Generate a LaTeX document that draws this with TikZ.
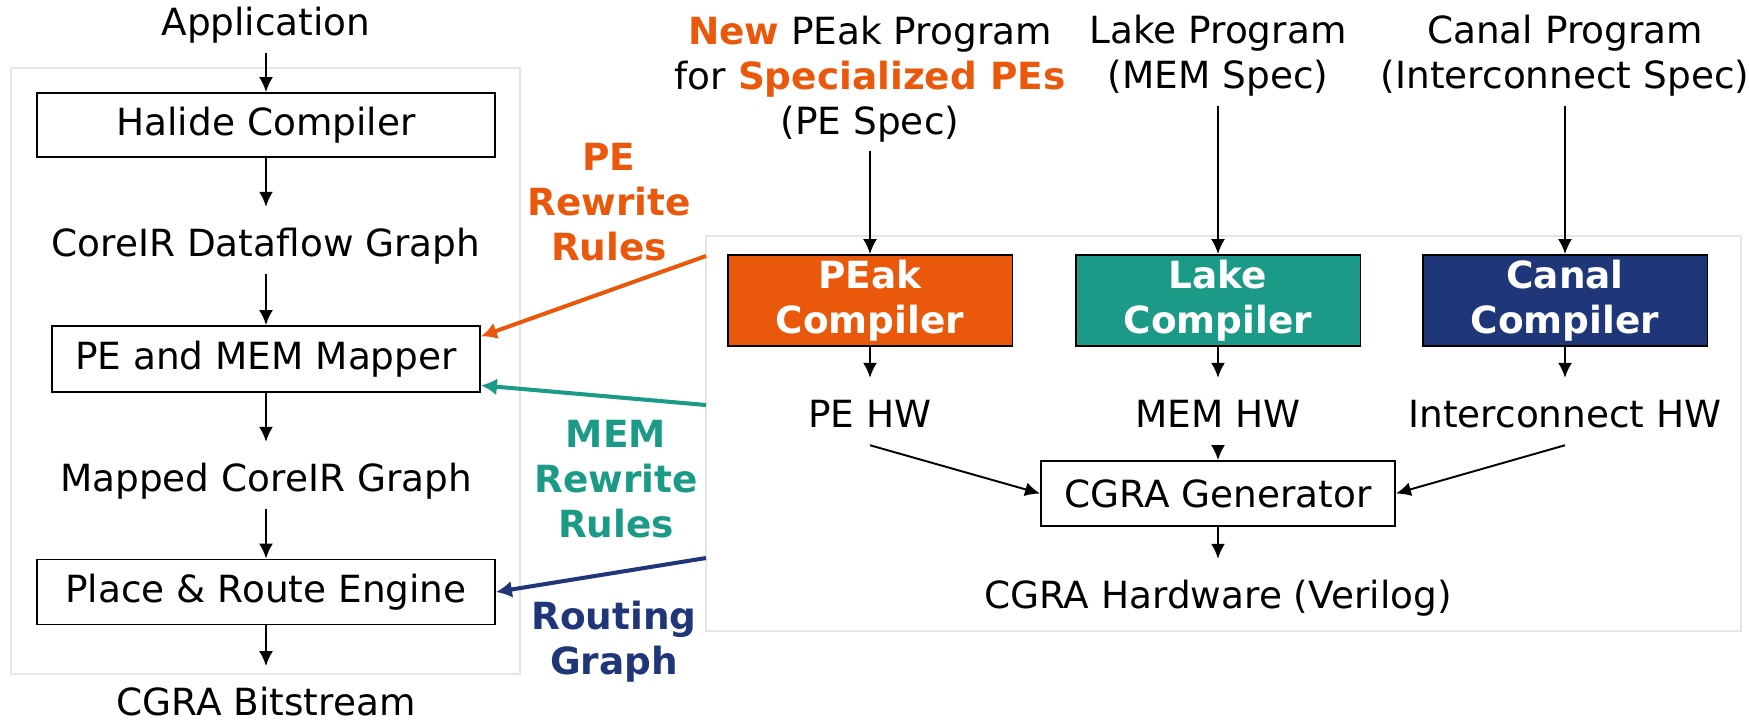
\documentclass[tikz,border=0pt]{standalone}
\usepackage{fontspec}
\setmainfont{DejaVu Sans}
\usetikzlibrary{arrows.meta}

\definecolor{peakorange}{RGB}{234,88,11}
\definecolor{laketeal}{RGB}{27,154,136}
\definecolor{canalnavy}{RGB}{31,55,120}
\definecolor{panelgray}{RGB}{229,229,229}

\begin{document}
\begin{tikzpicture}[x=0.02cm,y=-0.02cm,
  every node/.style={font=\fontsize{21.3}{25.6}\selectfont},
  lbl/.style={inner xsep=0pt,inner ysep=0pt,text height=28pt,text depth=10pt},
  prog/.style={align=center,inner xsep=0pt,inner ysep=5pt},
  rules/.style={align=center,inner sep=0pt,font=\fontsize{21.3}{25.6}\selectfont\bfseries},
  box/.style={draw,line width=1.1pt,minimum height=1.3cm,inner sep=0pt},
  cbox/.style={box,text=white,minimum width=5.7cm,minimum height=1.82cm,align=center,
    font=\fontsize{21.3}{25.6}\selectfont\bfseries},
  panel/.style={draw=panelgray,line width=1.5pt},
  flow/.style={-{Latex[length=0.3cm,width=0.28cm]},line width=1.1pt},
  feed/.style={-{Latex[length=0.32cm,width=0.34cm]},line width=2.3pt}]
  \useasboundingbox (0,0) rectangle (1749,725);

  \draw[panel] (11,68) rectangle (520,674);
  \draw[panel] (706,236) rectangle (1741,631);

  \node[lbl] (app) at (266,19.5) {Application};
  \node[box,minimum width=9.16cm,minimum height=1.28cm] (halide) at (266,125) {Halide Compiler};
  \node[lbl] (dfg) at (266,240.5) {CoreIR Dataflow Graph};
  \node[box,minimum width=8.56cm,minimum height=1.32cm] (mapper) at (266,359) {PE and MEM Mapper};
  \node[lbl] (mapped) at (266,475.5) {Mapped CoreIR Graph};
  \node[box,minimum width=9.16cm,minimum height=1.3cm] (pr) at (266,592) {Place \& Route Engine};
  \node[lbl,text depth=0pt] (bits) at (266,691) {CGRA Bitstream};

  \draw[flow] (app) -- (halide);
  \draw[flow] (halide) -- (dfg);
  \draw[flow] (dfg) -- (mapper);
  \draw[flow] (mapper) -- (mapped);
  \draw[flow] (mapped) -- (pr);
  \draw[flow] (pr) -- (bits);

  \node[prog] (peprog) at (870,79) {{\color{peakorange}\bfseries New} PEak Program\\
    for {\color{peakorange}\bfseries Specialized PEs}\\(PE Spec)};
  \node[prog] (lakeprog) at (1218,56) {Lake Program\\(MEM Spec)};
  \node[prog] (canalprog) at (1565,56) {Canal Program\\(Interconnect Spec)};

  \node[cbox,fill=peakorange] (peak) at (870,300.5) {PEak\\Compiler};
  \node[cbox,fill=laketeal] (lake) at (1218,300.5) {Lake\\Compiler};
  \node[cbox,fill=canalnavy] (canal) at (1565,300.5) {Canal\\Compiler};

  \node[lbl] (pehw) at (870,411.5) {PE HW};
  \node[lbl] (memhw) at (1218,411.5) {MEM HW};
  \node[lbl] (ichw) at (1565,411.5) {Interconnect HW};
  \node[box,minimum width=7.08cm] (gen) at (1218,493.5) {CGRA Generator};
  \node[lbl] (verilog) at (1218,592.5) {CGRA Hardware (Verilog)};

  \draw[flow] (peprog) -- (peak);
  \draw[flow] (lakeprog) -- (lake);
  \draw[flow] (canalprog) -- (canal);
  \draw[flow] (peak) -- (pehw);
  \draw[flow] (lake) -- (memhw);
  \draw[flow] (canal) -- (ichw);
  \draw[flow] (pehw.south) -- (gen.west);
  \draw[flow] (memhw) -- (gen);
  \draw[flow] (ichw.south) -- (gen.east);
  \draw[flow] (gen) -- (verilog);

  \node[rules,text=peakorange] (perules) at (609,202) {PE\\Rewrite\\Rules};
  \node[rules,text=laketeal] (memrules) at (616,479) {MEM\\Rewrite\\Rules};
  \node[rules,text=canalnavy] (routing) at (614,642) {Routing\\Graph};

  \coordinate (peout) at (706,256);
  \coordinate (memout) at (706,405);
  \coordinate (rtout) at (706,558);
  \draw[feed,peakorange] (peout) -- (mapper.6);
  \draw[feed,laketeal] (memout) -- (mapper.-7);
  \draw[feed,canalnavy] (rtout) -- (pr.east);
\end{tikzpicture}
\end{document}
